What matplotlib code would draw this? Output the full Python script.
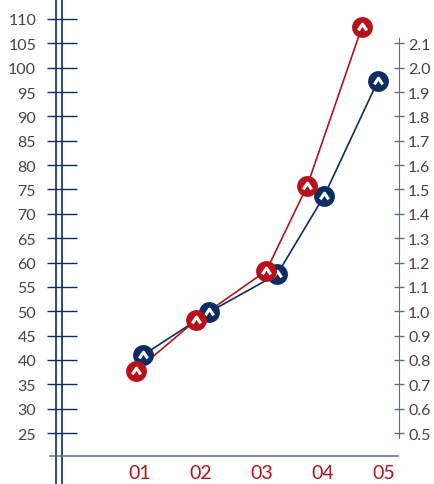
import numpy as np
import matplotlib
matplotlib.use('Agg')
import matplotlib.pyplot as plt
from matplotlib.path import Path
from matplotlib.lines import Line2D

plt.rcParams['font.family'] = ['Lato', 'DejaVu Sans']

# categories and values
categories = ['01', '02', '03', '04', '05']
red_x = [0.93, 1.92, 3.07, 3.74, 4.64]
red_y = [37.7, 48.2, 58.3, 75.7, 108.4]
blue_x = [1.05, 2.13, 3.25, 4.02, 4.90]
blue_y = [41.0, 49.8, 57.6, 73.7, 97.3]
left_ticks = np.arange(25, 111, 5)
right_ticks = np.arange(0.5, 2.15, 0.1)

RED = '#b5121b'
NAVY = '#0b2d62'
GREY_BLUE = '#566e96'
LABEL = '#444444'

W, H = 434, 485
fig = plt.figure(figsize=(W / 100, H / 100), dpi=100)
ax = fig.add_axes([62 / W, 28 / H, 337 / W, 457 / H])
ax.set_xlim(-0.2787, 5.2459)
ax.set_ylim(20.278, 114.106)
for s in ax.spines.values():
    s.set_visible(False)

ax.set_yticks(left_ticks)
ax.tick_params(axis='y', direction='inout', length=22.3, width=1.0, color=NAVY,
               labelsize=11.5, labelcolor=LABEL, pad=7.5)
ax.set_xticks(range(1, len(categories) + 1), categories)
ax.tick_params(axis='x', length=0, labelsize=14, labelcolor=RED, pad=6)

# double line on the left, base line at the bottom
fig.add_artist(Line2D([56 / W, 56 / W], [0, 1], color=NAVY, lw=1.2))
fig.add_artist(Line2D([62 / W, 62 / W], [0, 1], color=NAVY, lw=1.2))
fig.add_artist(Line2D([50 / W, 398 / W], [28 / H, 28 / H], color=GREY_BLUE, lw=1.1))

ax2 = ax.twinx()
ax2.set_ylim(20.278 / 50, 114.106 / 50)
for k, s in ax2.spines.items():
    s.set_visible(k == 'right')
ax2.spines['right'].set_color(GREY_BLUE)
ax2.spines['right'].set_bounds(0.478, 2.12)
ax2.set_yticks(right_ticks, ['%.1f' % t for t in right_ticks])
ax2.tick_params(axis='y', direction='inout', length=7.2, width=1.0, color=GREY_BLUE,
                labelsize=11.5, labelcolor=LABEL, pad=3)

caret = Path([(-1, -0.7), (0, 0.8), (1, -0.7)],
             [Path.MOVETO, Path.LINETO, Path.LINETO])

ax.plot(blue_x, blue_y, color=NAVY, lw=1.2, zorder=2)
ax.plot(red_x, red_y, color=RED, lw=1.2, zorder=2)
ax.plot(blue_x, blue_y, 'o', ms=15, color=NAVY, mec='none', zorder=3)
ax.plot(blue_x, blue_y, ls='none', marker=caret, ms=6, mfc='none', mec='white', mew=2.2, zorder=3.1)
ax.plot(red_x, red_y, 'o', ms=15, color=RED, mec='none', zorder=4)
ax.plot(red_x, red_y, ls='none', marker=caret, ms=6, mfc='none', mec='white', mew=2.2, zorder=4.1)

fig.savefig('out.png', dpi=100)
